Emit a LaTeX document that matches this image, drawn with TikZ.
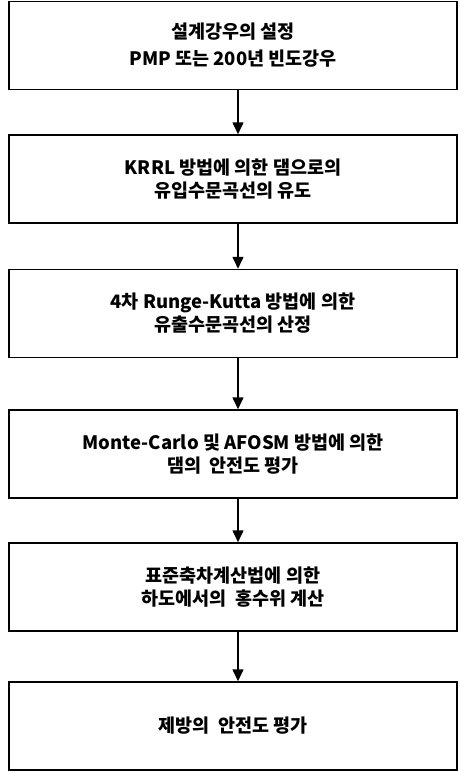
\documentclass[tikz,border=0pt]{standalone}
\usepackage{fontspec}
\setmainfont{Noto Sans CJK KR}
\usetikzlibrary{positioning,arrows.meta}

\begin{document}
\begin{tikzpicture}[x=1pt,y=-1pt,
    stepbox/.style={draw, line width=1.5pt, minimum width=448pt, minimum height=88pt,
        inner sep=0pt, align=center, font=\fontsize{18.5}{23}\selectfont\bfseries},
    flow/.style={-{Triangle[length=12pt,width=11pt]}, line width=1.5pt}]

    \useasboundingbox (0,0) rectangle (459,772);

    \node[stepbox] (rain) at (233,45.5) {설계강우의 설정\\[4pt]PMP 또는 200년 빈도강우};
    \node[stepbox] (inflow) at (233,179) {KRRL 방법에 의한 댐으로의\\유입수문곡선의 유도};
    \node[stepbox] (outflow) at (233,313.5) {4차 Runge-Kutta 방법에 의한\\유출수문곡선의 산정};
    \node[stepbox] (dam) at (233,454) {Monte-Carlo 및 AFOSM 방법에 의한\\댐의\ \ 안전도 평가};
    \node[stepbox] (stage) at (233,587) {표준축차계산법에 의한\\하도에서의\ \ 홍수위 계산};
    \node[stepbox] (levee) at (233,726) {제방의\ \ 안전도 평가};

    \draw[flow] ([xshift=5pt]rain.south) -- ([xshift=5pt]inflow.north);
    \draw[flow] ([xshift=5pt]inflow.south) -- ([xshift=5pt]outflow.north);
    \draw[flow] ([xshift=5pt]outflow.south) -- ([xshift=5pt]dam.north);
    \draw[flow] ([xshift=5pt]dam.south) -- ([xshift=5pt]stage.north);
    \draw[flow] ([xshift=5pt]stage.south) -- ([xshift=5pt]levee.north);

\end{tikzpicture}
\end{document}
